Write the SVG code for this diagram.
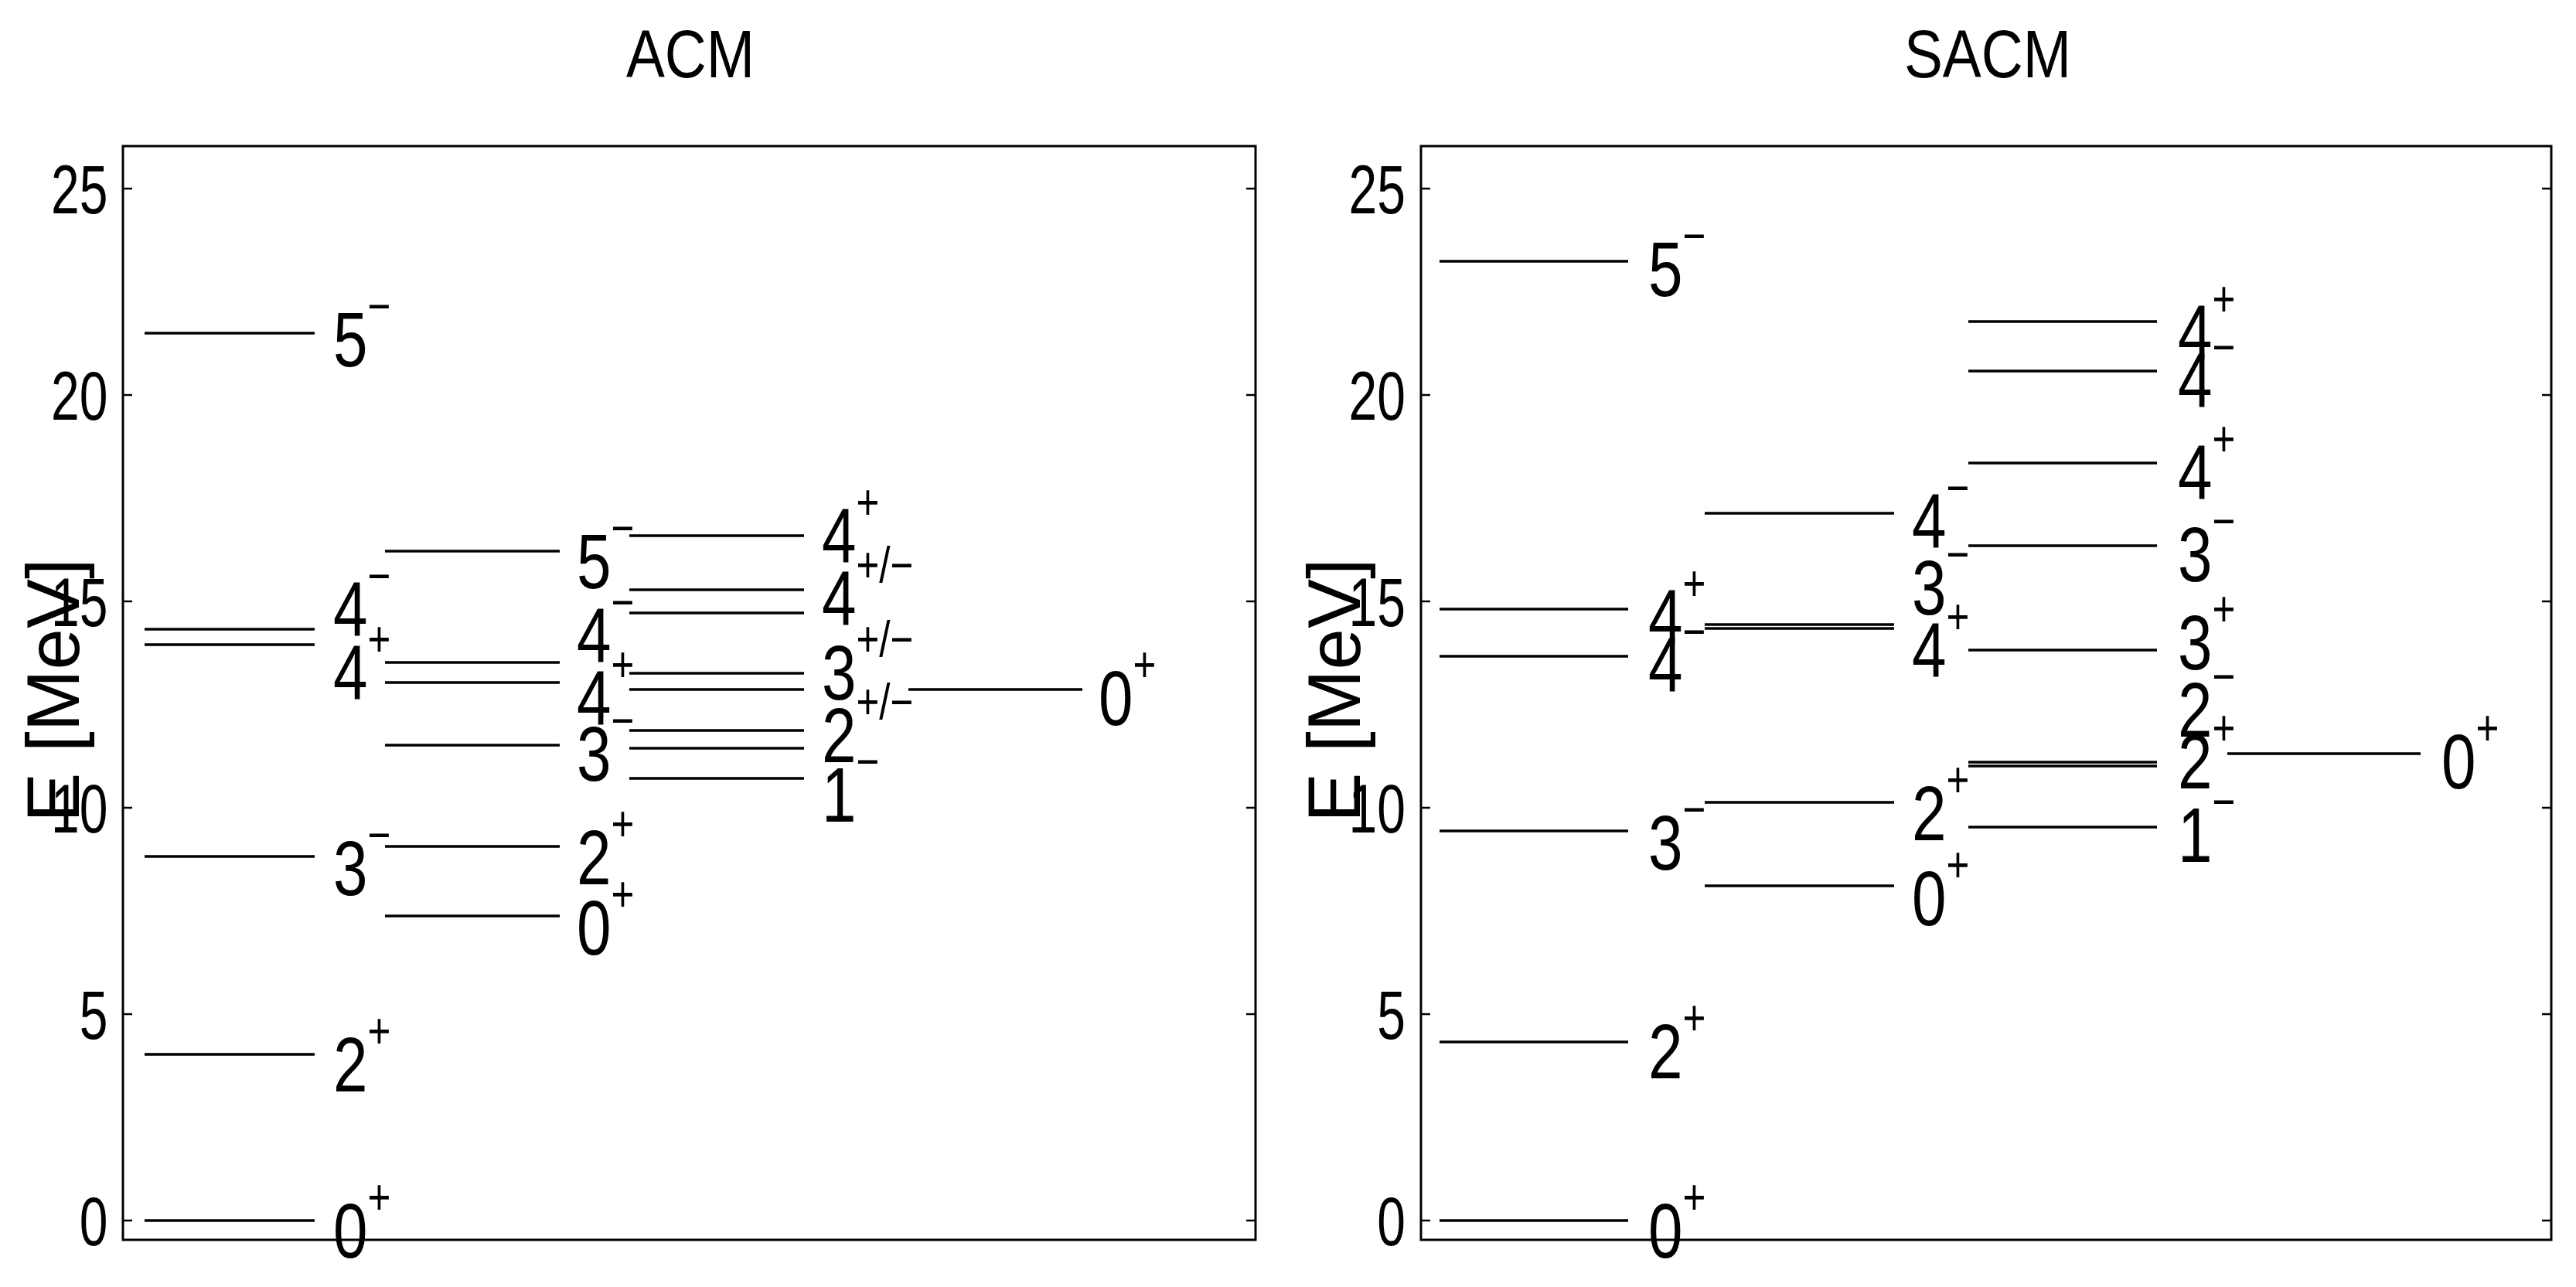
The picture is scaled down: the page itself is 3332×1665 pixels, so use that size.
<svg xmlns="http://www.w3.org/2000/svg" width="3332" height="1665" viewBox="0 0 3332 1665">
<style>
.box{fill:none;stroke:#000;stroke-width:3}
.lv{stroke:#000;stroke-width:3.5}
.tk{stroke:#000;stroke-width:2.5}
text{font-family:"Liberation Sans",Arial,sans-serif;fill:#000}
.lb{font-size:100px}
.tl{font-size:88px;text-anchor:end}
.ti{font-size:88px;text-anchor:middle}
.ax{font-size:96px;text-anchor:middle}
.s{font-size:64px}
</style>
<rect width="3332" height="1665" fill="#fff"/>
<g id="acm-panel">
<rect class="box" x="159" y="189" width="1465" height="1415"/>
<g transform="scale(0.85 1)"><text class="ti" x="1050.6" y="100">ACM</text></g>
<text class="ax" transform="translate(102,893) rotate(-90)">E [MeV]</text>
<g class="tk">
<line x1="159" y1="1579" x2="171" y2="1579"/><line x1="1612" y1="1579" x2="1624" y2="1579"/>
<line x1="159" y1="1312" x2="171" y2="1312"/><line x1="1612" y1="1312" x2="1624" y2="1312"/>
<line x1="159" y1="1045" x2="171" y2="1045"/><line x1="1612" y1="1045" x2="1624" y2="1045"/>
<line x1="159" y1="778" x2="171" y2="778"/><line x1="1612" y1="778" x2="1624" y2="778"/>
<line x1="159" y1="511" x2="171" y2="511"/><line x1="1612" y1="511" x2="1624" y2="511"/>
<line x1="159" y1="244" x2="171" y2="244"/><line x1="1612" y1="244" x2="1624" y2="244"/>
</g>
<g transform="scale(0.75 1)">
<text class="tl" x="186" y="1611">0</text>
<text class="tl" x="186" y="1344">5</text>
<text class="tl" x="186" y="1077">10</text>
<text class="tl" x="186" y="810">15</text>
<text class="tl" x="186" y="543">20</text>
<text class="tl" x="186" y="276">25</text>
</g>
</g>
<g id="acm-levels" class="lv">
<line x1="187" y1="431" x2="407" y2="431"/>
<line x1="187" y1="814" x2="407" y2="814"/>
<line x1="187" y1="834" x2="407" y2="834"/>
<line x1="187" y1="1108" x2="407" y2="1108"/>
<line x1="187" y1="1364" x2="407" y2="1364"/>
<line x1="187" y1="1579" x2="407" y2="1579"/>
<line x1="498" y1="713" x2="724" y2="713"/>
<line x1="498" y1="857" x2="724" y2="857"/>
<line x1="498" y1="883" x2="724" y2="883"/>
<line x1="498" y1="964" x2="724" y2="964"/>
<line x1="498" y1="1095" x2="724" y2="1095"/>
<line x1="498" y1="1185" x2="724" y2="1185"/>
<line x1="814" y1="693" x2="1040" y2="693"/>
<line x1="814" y1="763" x2="1040" y2="763"/>
<line x1="814" y1="793" x2="1040" y2="793"/>
<line x1="814" y1="871" x2="1040" y2="871"/>
<line x1="814" y1="892" x2="1040" y2="892"/>
<line x1="814" y1="945" x2="1040" y2="945"/>
<line x1="814" y1="968" x2="1040" y2="968"/>
<line x1="814" y1="1007" x2="1040" y2="1007"/>
<line x1="1175" y1="892" x2="1400" y2="892"/>
</g>
<g id="acm-labels" class="lb" transform="scale(0.8 1)">
<text x="538.75" y="474">5<tspan class="s" dy="-56">−</tspan></text>
<text x="538.75" y="823">4<tspan class="s" dy="-56">−</tspan></text>
<text x="538.75" y="905">4<tspan class="s" dy="-56">+</tspan></text>
<text x="538.75" y="1158">3<tspan class="s" dy="-56">−</tspan></text>
<text x="538.75" y="1412">2<tspan class="s" dy="-56">+</tspan></text>
<text x="538.75" y="1627">0<tspan class="s" dy="-56">+</tspan></text>
<text x="932.5" y="761">5<tspan class="s" dy="-56">−</tspan></text>
<text x="932.5" y="857">4<tspan class="s" dy="-56">−</tspan></text>
<text x="932.5" y="938">4<tspan class="s" dy="-56">+</tspan></text>
<text x="932.5" y="1010">3<tspan class="s" dy="-56">−</tspan></text>
<text x="932.5" y="1144">2<tspan class="s" dy="-56">+</tspan></text>
<text x="932.5" y="1235">0<tspan class="s" dy="-56">+</tspan></text>
<text x="1328.75" y="728">4<tspan class="s" dy="-56">+</tspan></text>
<text x="1328.75" y="809">4<tspan class="s" dy="-56">+/−</tspan></text>
<text x="1328.75" y="905">3<tspan class="s" dy="-56">+/−</tspan></text>
<text x="1328.75" y="986">2<tspan class="s" dy="-56">+/−</tspan></text>
<text x="1328.75" y="1063">1<tspan class="s" dy="-56">−</tspan></text>
<text x="1776.25" y="938">0<tspan class="s" dy="-56">+</tspan></text>
</g>
<g id="sacm-panel">
<rect class="box" x="1838" y="189" width="1462" height="1415"/>
<g transform="scale(0.85 1)"><text class="ti" x="3024.7" y="100">SACM</text></g>
<text class="ax" transform="translate(1759,893) rotate(-90)">E [MeV]</text>
<g class="tk">
<line x1="1838" y1="1579" x2="1850" y2="1579"/><line x1="3288" y1="1579" x2="3300" y2="1579"/>
<line x1="1838" y1="1312" x2="1850" y2="1312"/><line x1="3288" y1="1312" x2="3300" y2="1312"/>
<line x1="1838" y1="1045" x2="1850" y2="1045"/><line x1="3288" y1="1045" x2="3300" y2="1045"/>
<line x1="1838" y1="778" x2="1850" y2="778"/><line x1="3288" y1="778" x2="3300" y2="778"/>
<line x1="1838" y1="511" x2="1850" y2="511"/><line x1="3288" y1="511" x2="3300" y2="511"/>
<line x1="1838" y1="244" x2="1850" y2="244"/><line x1="3288" y1="244" x2="3300" y2="244"/>
</g>
<g transform="scale(0.75 1)">
<text class="tl" x="2424" y="1611">0</text>
<text class="tl" x="2424" y="1344">5</text>
<text class="tl" x="2424" y="1077">10</text>
<text class="tl" x="2424" y="810">15</text>
<text class="tl" x="2424" y="543">20</text>
<text class="tl" x="2424" y="276">25</text>
</g>
</g>
<g id="sacm-levels" class="lv">
<line x1="1862" y1="338" x2="2106" y2="338"/>
<line x1="1862" y1="788" x2="2106" y2="788"/>
<line x1="1862" y1="849" x2="2106" y2="849"/>
<line x1="1862" y1="1075" x2="2106" y2="1075"/>
<line x1="1862" y1="1348" x2="2106" y2="1348"/>
<line x1="1862" y1="1579" x2="2106" y2="1579"/>
<line x1="2205" y1="664" x2="2450" y2="664"/>
<line x1="2205" y1="808" x2="2450" y2="808"/>
<line x1="2205" y1="813" x2="2450" y2="813"/>
<line x1="2205" y1="1038" x2="2450" y2="1038"/>
<line x1="2205" y1="1146" x2="2450" y2="1146"/>
<line x1="2546" y1="416" x2="2790" y2="416"/>
<line x1="2546" y1="480" x2="2790" y2="480"/>
<line x1="2546" y1="599" x2="2790" y2="599"/>
<line x1="2546" y1="706" x2="2790" y2="706"/>
<line x1="2546" y1="841" x2="2790" y2="841"/>
<line x1="2546" y1="986" x2="2790" y2="986"/>
<line x1="2546" y1="991" x2="2790" y2="991"/>
<line x1="2546" y1="1070" x2="2790" y2="1070"/>
<line x1="2881" y1="975" x2="3131" y2="975"/>
</g>
<g id="sacm-labels" class="lb" transform="scale(0.8 1)">
<text x="2665" y="383">5<tspan class="s" dy="-56">−</tspan></text>
<text x="2665" y="833">4<tspan class="s" dy="-56">+</tspan></text>
<text x="2665" y="895">4<tspan class="s" dy="-56">−</tspan></text>
<text x="2665" y="1125">3<tspan class="s" dy="-56">−</tspan></text>
<text x="2665" y="1395">2<tspan class="s" dy="-56">+</tspan></text>
<text x="2665" y="1627">0<tspan class="s" dy="-56">+</tspan></text>
<text x="3091.25" y="709">4<tspan class="s" dy="-56">−</tspan></text>
<text x="3091.25" y="795">3<tspan class="s" dy="-56">−</tspan></text>
<text x="3091.25" y="876">4<tspan class="s" dy="-56">+</tspan></text>
<text x="3091.25" y="1087">2<tspan class="s" dy="-56">+</tspan></text>
<text x="3091.25" y="1197">0<tspan class="s" dy="-56">+</tspan></text>
<text x="3521.25" y="465">4<tspan class="s" dy="-56">+</tspan></text>
<text x="3521.25" y="527">4<tspan class="s" dy="-56">−</tspan></text>
<text x="3521.25" y="646">4<tspan class="s" dy="-56">+</tspan></text>
<text x="3521.25" y="752">3<tspan class="s" dy="-56">−</tspan></text>
<text x="3521.25" y="866">3<tspan class="s" dy="-56">+</tspan></text>
<text x="3521.25" y="953">2<tspan class="s" dy="-56">−</tspan></text>
<text x="3521.25" y="1020">2<tspan class="s" dy="-56">+</tspan></text>
<text x="3521.25" y="1115">1<tspan class="s" dy="-56">−</tspan></text>
<text x="3947.5" y="1020">0<tspan class="s" dy="-56">+</tspan></text>
</g>
</svg>
